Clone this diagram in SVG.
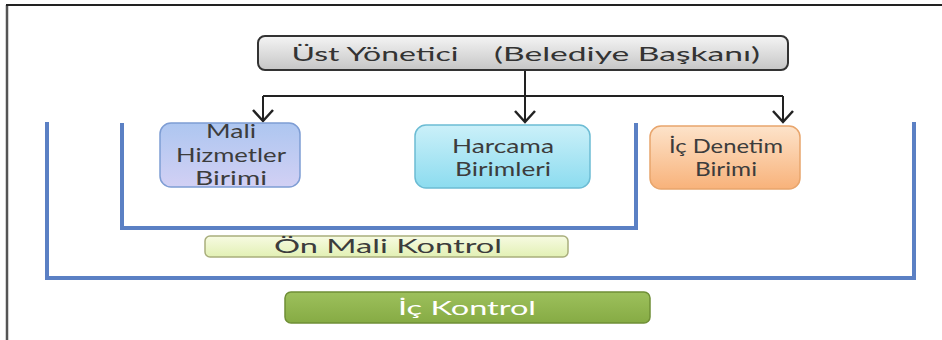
<svg xmlns="http://www.w3.org/2000/svg" width="942" height="340" viewBox="0 0 942 340">
<defs>
<linearGradient id="gTop" x1="0" y1="0" x2="0" y2="1"><stop offset="0" stop-color="#f4f4f4"/><stop offset="1" stop-color="#c6c6c6"/></linearGradient>
<linearGradient id="gBlue" x1="0" y1="0" x2="0" y2="1"><stop offset="0" stop-color="#adc6f0"/><stop offset="1" stop-color="#d2d0f4"/></linearGradient>
<linearGradient id="gCyan" x1="0" y1="0" x2="0" y2="1"><stop offset="0" stop-color="#cbf0f9"/><stop offset="1" stop-color="#8cdcef"/></linearGradient>
<linearGradient id="gOrange" x1="0" y1="0" x2="0" y2="1"><stop offset="0" stop-color="#fde3ca"/><stop offset="1" stop-color="#f8b27a"/></linearGradient>
<linearGradient id="gYellow" x1="0" y1="0" x2="0" y2="1"><stop offset="0" stop-color="#f7fbe2"/><stop offset="1" stop-color="#e2f0b4"/></linearGradient>
<linearGradient id="gGreen" x1="0" y1="0" x2="0" y2="1"><stop offset="0" stop-color="#9dc05c"/><stop offset="1" stop-color="#86ab44"/></linearGradient>
<marker id="arr" viewBox="0 0 14 22" refX="12" refY="11" markerWidth="14" markerHeight="22" markerUnits="userSpaceOnUse" orient="auto">
<path d="M1,1 L12,11 L1,21" fill="none" stroke="#222" stroke-width="2.5"/>
</marker>
</defs>
<style>
.t{font-family:Lato,"Open Sans","Liberation Sans",sans-serif;font-size:19px;fill:#3c3c3c;text-anchor:middle}
.bk{fill:none;stroke:#5b80c4;stroke-width:4}
.cn{fill:none;stroke:#222;stroke-width:2}
</style>
<rect x="0" y="0" width="942" height="340" fill="#ffffff"/>
<path d="M7,340 V5" fill="none" stroke="#555" stroke-width="2.5"/>
<path d="M6,5 H942" fill="none" stroke="#222" stroke-width="2"/>
<g id="brackets">
<path class="bk" d="M122,123 V228 H636 V123"/>
<path class="bk" d="M47,122 V278 H914 V122"/>
</g>
<g id="connectors">
<path class="cn" d="M525,70 V96"/>
<path class="cn" d="M263,96 H783"/>
<path class="cn" d="M263,96 V121" marker-end="url(#arr)"/>
<path class="cn" d="M525,96 V122" marker-end="url(#arr)"/>
<path class="cn" d="M783,96 V122" marker-end="url(#arr)"/>
</g>
<g id="top">
<rect x="258" y="36" width="530" height="34" rx="7" fill="url(#gTop)" stroke="#333" stroke-width="2"/>
<text class="t" x="375" y="61" textLength="167" lengthAdjust="spacingAndGlyphs" style="fill:#333;font-size:20px">Üst Yönetici</text>
<text class="t" x="627" y="61" textLength="266" lengthAdjust="spacingAndGlyphs" style="fill:#333;font-size:20px">(Belediye Başkanı)</text>
</g>
<g id="mali">
<rect x="160" y="123" width="140" height="64" rx="11" fill="url(#gBlue)" stroke="#7e9dd4" stroke-width="1.5"/>
<text class="t" x="231" y="138" textLength="50" lengthAdjust="spacingAndGlyphs">Mali</text>
<text class="t" x="231" y="161.5" textLength="110" lengthAdjust="spacingAndGlyphs">Hizmetler</text>
<text class="t" x="231" y="185" textLength="72" lengthAdjust="spacingAndGlyphs">Birimi</text>
</g>
<g id="harcama">
<rect x="415" y="125" width="175" height="63" rx="11" fill="url(#gCyan)" stroke="#6cbcd4" stroke-width="1.5"/>
<text class="t" x="503" y="152.5" textLength="102" lengthAdjust="spacingAndGlyphs">Harcama</text>
<text class="t" x="503" y="176" textLength="96" lengthAdjust="spacingAndGlyphs">Birimleri</text>
</g>
<g id="denetim">
<rect x="650" y="126" width="150" height="63" rx="11" fill="url(#gOrange)" stroke="#e8a56c" stroke-width="1.5"/>
<text class="t" x="726" y="152.5" textLength="114" lengthAdjust="spacingAndGlyphs">İç Denetim</text>
<text class="t" x="726" y="176" textLength="62" lengthAdjust="spacingAndGlyphs">Birimi</text>
</g>
<g id="onmali">
<rect x="205" y="236" width="363" height="21" rx="5" fill="url(#gYellow)" stroke="#a9ae7c" stroke-width="1.5"/>
<text class="t" x="388" y="253" textLength="228" lengthAdjust="spacingAndGlyphs" style="font-size:20px">Ön Mali Kontrol</text>
</g>
<g id="ickontrol">
<rect x="285" y="292" width="365" height="31" rx="6" fill="url(#gGreen)" stroke="#6f8f36" stroke-width="1.5"/>
<text class="t" x="467" y="315" textLength="138" lengthAdjust="spacingAndGlyphs" style="fill:#ffffff;font-size:20px">İç Kontrol</text>
</g>
</svg>
